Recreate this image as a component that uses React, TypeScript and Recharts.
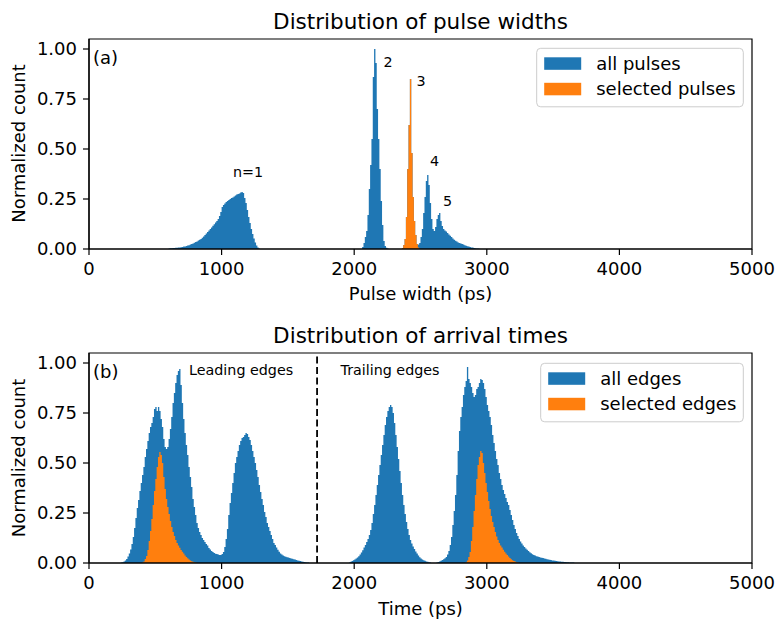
import React from 'react';
import { AreaChart, Area, XAxis, YAxis, ReferenceArea, ReferenceLine } from 'recharts';

const BIN = 10;
const X_MAX = 5000;
const xTicks = [0, 1000, 2000, 3000, 4000, 5000];
const yTicks = [0, 0.25, 0.5, 0.75, 1.0];
const BLUE = '#1f77b4';
const ORANGE = '#ff7f0e';
const FONT = 'DejaVu Sans, Verdana, sans-serif';

// ---- Panel (a): pulse widths, 10 ps bins ----
const pulseN1Start = 600;
const pulseN1 = [
  0.003, 0.004, 0.004, 0.005, 0.005, 0.006, 0.006, 0.007, 0.008, 0.009,
  0.010, 0.012, 0.013, 0.015, 0.017, 0.019, 0.022, 0.025, 0.028, 0.031,
  0.035, 0.038, 0.042, 0.046, 0.050, 0.056, 0.062, 0.070, 0.078, 0.085,
  0.093, 0.100, 0.108, 0.116, 0.124, 0.132, 0.140, 0.150, 0.165, 0.185,
  0.210, 0.220, 0.228, 0.235, 0.240, 0.245, 0.250, 0.255, 0.258, 0.262,
  0.268, 0.272, 0.275, 0.278, 0.282, 0.285, 0.280, 0.255, 0.230, 0.195,
  0.160, 0.130, 0.100, 0.075, 0.052, 0.032, 0.018, 0.008, 0.003, 0.0,
];
const pulseN2Start = 2060;
const pulseN2 = [
  0.01, 0.03, 0.06, 0.09, 0.17, 0.30, 0.42, 0.55, 0.86, 1.0,
  0.93, 0.70, 0.55, 0.40, 0.24, 0.12, 0.04, 0.015, 0.006, 0.002,
];
const pulseN3Start = 2360;
const pulseN3 = [0.005, 0.02, 0.05, 0.16, 0.40, 0.62, 0.85, 0.48, 0.26, 0.14, 0.07, 0.025, 0.008];
const pulseN45Start = 2480;
const pulseN45 = [
  0.015, 0.03, 0.06, 0.10, 0.18, 0.26, 0.34, 0.37, 0.32, 0.23,
  0.15, 0.10, 0.09, 0.11, 0.15, 0.17, 0.18, 0.14, 0.115, 0.10,
  0.092, 0.088, 0.080, 0.072, 0.066, 0.060, 0.052, 0.046, 0.041, 0.037,
  0.033, 0.030, 0.027, 0.025, 0.022, 0.019, 0.016, 0.014, 0.012, 0.010,
  0.008, 0.007, 0.005, 0.004, 0.003, 0.002, 0.001,
];

// ---- Panel (b): arrival times, 10 ps bins ----
const leadAllStart = 240;
const leadAll = [
  0.002, 0.004, 0.007, 0.012, 0.020, 0.032, 0.048, 0.068, 0.095, 0.130,
  0.175, 0.225, 0.275, 0.315, 0.360, 0.400, 0.440, 0.480, 0.530, 0.570,
  0.610, 0.650, 0.680, 0.700, 0.730, 0.770, 0.780, 0.760, 0.780, 0.760,
  0.720, 0.680, 0.620, 0.580, 0.570, 0.580, 0.620, 0.670, 0.730, 0.800,
  0.850, 0.900, 0.940, 0.960, 0.970, 0.890, 0.800, 0.720, 0.650, 0.590,
  0.540, 0.480, 0.430, 0.380, 0.320, 0.280, 0.240, 0.200, 0.175, 0.155,
  0.140, 0.125, 0.115, 0.105, 0.095, 0.088, 0.075, 0.068, 0.060, 0.055,
  0.050, 0.046, 0.045, 0.042, 0.040, 0.040, 0.045, 0.055, 0.080, 0.120,
  0.170, 0.240, 0.300, 0.350, 0.400, 0.450, 0.500, 0.530, 0.560, 0.590,
  0.610, 0.625, 0.630, 0.640, 0.650, 0.645, 0.630, 0.615, 0.590, 0.560,
  0.530, 0.500, 0.465, 0.430, 0.390, 0.355, 0.320, 0.290, 0.255, 0.230,
  0.200, 0.180, 0.160, 0.140, 0.120, 0.100, 0.090, 0.078, 0.066, 0.056,
  0.048, 0.042, 0.038, 0.034, 0.031, 0.029, 0.027, 0.025, 0.023, 0.021,
  0.019, 0.017, 0.015, 0.013, 0.011, 0.010, 0.008, 0.006, 0.005, 0.004,
  0.003, 0.002,
];
const leadSelStart = 400;
const leadSel = [
  0.003, 0.008, 0.020, 0.035, 0.065, 0.110, 0.160, 0.220, 0.290, 0.360,
  0.420, 0.480, 0.530, 0.555, 0.540, 0.500, 0.430, 0.370, 0.320, 0.280,
  0.245, 0.210, 0.180, 0.155, 0.135, 0.115, 0.100, 0.088, 0.076, 0.065,
  0.056, 0.047, 0.038, 0.030, 0.024, 0.018, 0.013, 0.009, 0.006, 0.004,
  0.002,
];
const trail1Start = 1960;
const trail1 = [
  0.003, 0.006, 0.010, 0.014, 0.018, 0.022, 0.027, 0.034, 0.042, 0.052,
  0.064, 0.077, 0.090, 0.105, 0.120, 0.140, 0.165, 0.200, 0.245, 0.290,
  0.340, 0.390, 0.440, 0.490, 0.540, 0.590, 0.640, 0.690, 0.730, 0.760,
  0.780, 0.790, 0.780, 0.750, 0.700, 0.640, 0.580, 0.520, 0.460, 0.400,
  0.340, 0.290, 0.245, 0.205, 0.170, 0.140, 0.115, 0.098, 0.083, 0.070,
  0.058, 0.047, 0.037, 0.029, 0.023, 0.018, 0.014, 0.011, 0.008, 0.006,
  0.004, 0.002,
];
const trail2Start = 2620;
const trail2 = [
  0.003, 0.005, 0.008, 0.011, 0.015, 0.019, 0.024, 0.030, 0.042, 0.060,
  0.090, 0.130, 0.190, 0.260, 0.340, 0.440, 0.560, 0.660, 0.730, 0.780,
  0.840, 0.880, 0.910, 0.980, 0.920, 0.900, 0.880, 0.850, 0.830, 0.840,
  0.870, 0.880, 0.900, 0.920, 0.915, 0.900, 0.870, 0.830, 0.790, 0.760,
  0.730, 0.690, 0.640, 0.600, 0.560, 0.520, 0.490, 0.450, 0.420, 0.390,
  0.365, 0.345, 0.325, 0.305, 0.290, 0.265, 0.240, 0.215, 0.190, 0.170,
  0.150, 0.135, 0.120, 0.108, 0.097, 0.088, 0.080, 0.073, 0.066, 0.060,
  0.054, 0.049, 0.044, 0.040, 0.037, 0.034, 0.032, 0.030, 0.028, 0.026,
  0.025, 0.023, 0.021, 0.019, 0.018, 0.016, 0.015, 0.013, 0.012, 0.011,
  0.010, 0.009, 0.008, 0.007, 0.006, 0.006, 0.005, 0.005, 0.004, 0.004,
  0.003, 0.003, 0.002, 0.002,
];
const trailSelStart = 2840;
const trailSel = [
  0.004, 0.012, 0.030, 0.055, 0.110, 0.180, 0.260, 0.340, 0.420, 0.490,
  0.530, 0.560, 0.550, 0.500, 0.450, 0.400, 0.355, 0.310, 0.270, 0.235,
  0.205, 0.180, 0.155, 0.133, 0.115, 0.100, 0.088, 0.077, 0.066, 0.056,
  0.047, 0.040, 0.032, 0.025, 0.019, 0.014, 0.010, 0.007, 0.004, 0.002,
];

type Seg = { start: number; values: number[] };

function histogram(segs: Seg[]): number[] {
  const n = X_MAX / BIN + 1;
  const out: number[] = new Array(n).fill(0);
  segs.forEach((s) => {
    const i0 = Math.round(s.start / BIN);
    s.values.forEach((v, i) => {
      if (i0 + i < n) out[i0 + i] += v;
    });
  });
  return out;
}

function toData(all: number[], sel: number[]) {
  return all.map((v, i) => ({ x: i * BIN, all: v, sel: sel[i] }));
}

const pulseData = toData(
  histogram([
    { start: pulseN1Start, values: pulseN1 },
    { start: pulseN2Start, values: pulseN2 },
    { start: pulseN3Start, values: pulseN3 },
    { start: pulseN45Start, values: pulseN45 },
  ]),
  histogram([{ start: pulseN3Start, values: pulseN3 }])
);

const edgeData = toData(
  histogram([
    { start: leadAllStart, values: leadAll },
    { start: trail1Start, values: trail1 },
    { start: trail2Start, values: trail2 },
  ]),
  histogram([
    { start: leadSelStart, values: leadSel },
    { start: trailSelStart, values: trailSel },
  ])
);

const SPLIT_X = 1720;

const LABEL_SIZE = 18;
const tickStyle = { fill: '#000', fontSize: LABEL_SIZE, fontFamily: FONT };

function Panel({ data, divider }: { data: any[]; divider?: number }) {
  return (
    <AreaChart
      width={776}
      height={301}
      data={data}
      margin={{ top: 39, right: 24, bottom: 12, left: 29 }}
    >
      <XAxis
        dataKey="x"
        type="number"
        domain={[0, X_MAX]}
        ticks={xTicks}
        allowDataOverflow
        height={40}
        tick={tickStyle}
        tickSize={6}
        tickMargin={7}
        stroke="#000"
        axisLine={{ stroke: '#000', strokeWidth: 1.2 }}
        tickLine={{ stroke: '#000', strokeWidth: 1.2 }}
      />
      <YAxis
        type="number"
        domain={[0, 1.05]}
        ticks={yTicks}
        allowDataOverflow
        width={60}
        tick={tickStyle}
        tickSize={6}
        tickMargin={6}
        tickFormatter={(v: number) => v.toFixed(2)}
        axisLine={{ stroke: '#000', strokeWidth: 1.2 }}
        tickLine={{ stroke: '#000', strokeWidth: 1.2 }}
      />
      <Area
        type="stepAfter"
        dataKey="all"
        fill={BLUE}
        fillOpacity={1}
        stroke="none"
        isAnimationActive={false}
        dot={false}
        activeDot={false}
      />
      <Area
        type="stepAfter"
        dataKey="sel"
        fill={ORANGE}
        fillOpacity={1}
        stroke="none"
        isAnimationActive={false}
        dot={false}
        activeDot={false}
      />
      {divider !== undefined && (
        <ReferenceLine x={divider} stroke="#000" strokeWidth={1.8} strokeDasharray="7 3.5" />
      )}
      <ReferenceArea
        x1={0}
        x2={X_MAX}
        y1={0}
        y2={1.05}
        fill="none"
        fillOpacity={0}
        stroke="#000"
        strokeWidth={1.2}
        ifOverflow="visible"
      />
    </AreaChart>
  );
}

function LegendBox({ x, y, w, labels }: { x: number; y: number; w: number; labels: string[] }) {
  return (
    <g>
      <rect x={x} y={y} width={w} height={58.5} rx={4} ry={4} fill="#fff" fillOpacity={0.8} stroke="#cccccc" strokeWidth={1} />
      <rect x={x + 7.5} y={y + 9} width={37} height={12.5} fill={BLUE} />
      <rect x={x + 7.5} y={y + 34.5} width={37} height={12.5} fill={ORANGE} />
      <text x={x + 59.5} y={y + 21.5} fontSize={LABEL_SIZE} fontFamily={FONT} fill="#000">{labels[0]}</text>
      <text x={x + 59.5} y={y + 47} fontSize={LABEL_SIZE} fontFamily={FONT} fill="#000">{labels[1]}</text>
    </g>
  );
}

export default function App() {
  const annot = { fontSize: 14.3, fontFamily: FONT, fill: '#000' } as const;
  const title = { fontSize: 21.5, fontFamily: FONT, fill: '#000', textAnchor: 'middle' } as const;
  const lab = { fontSize: LABEL_SIZE, fontFamily: FONT, fill: '#000' } as const;
  return (
    <div style={{ position: 'absolute', left: 0, top: 0, width: 776, height: 619, background: '#fff', overflow: 'hidden' }}>
      <div style={{ position: 'absolute', left: 0, top: 0 }}>
        <Panel data={pulseData} />
      </div>
      <div style={{ position: 'absolute', left: 0, top: 314 }}>
        <Panel data={edgeData} divider={SPLIT_X} />
      </div>
      <svg width={776} height={619} style={{ position: 'absolute', left: 0, top: 0, pointerEvents: 'none' }}>
        <text x={420.5} y={28.5} {...title}>Distribution of pulse widths</text>
        <text x={420.5} y={342.7} {...title}>Distribution of arrival times</text>
        <text x={420.5} y={300} textAnchor="middle" {...lab}>Pulse width (ps)</text>
        <text x={420.5} y={615} textAnchor="middle" {...lab}>Time (ps)</text>
        <text x={25} y={143.5} textAnchor="middle" {...lab} transform="rotate(-90 25 143.5)">Normalized count</text>
        <text x={25} y={458} textAnchor="middle" {...lab} transform="rotate(-90 25 458)">Normalized count</text>
        <text x={93} y={63.5} {...lab}>(a)</text>
        <text x={93} y={378} {...lab}>(b)</text>
        <text x={248} y={176.5} textAnchor="middle" {...annot}>n=1</text>
        <text x={383.5} y={66.5} {...annot}>2</text>
        <text x={416.5} y={86} {...annot}>3</text>
        <text x={430} y={166} {...annot}>4</text>
        <text x={443} y={206} {...annot}>5</text>
        <text x={189} y={375} {...annot}>Leading edges</text>
        <text x={340.5} y={375} {...annot}>Trailing edges</text>
        <LegendBox x={536.7} y={48.3} w={206.6} labels={['all pulses', 'selected pulses']} />
        <LegendBox x={540.7} y={363.3} w={202.6} labels={['all edges', 'selected edges']} />
      </svg>
    </div>
  );
}
